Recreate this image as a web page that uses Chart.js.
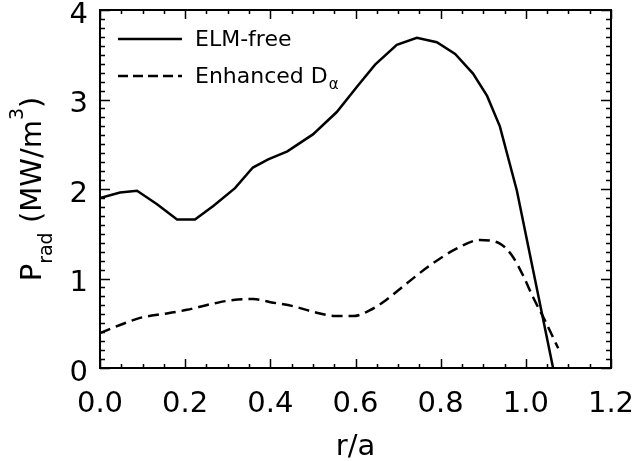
<!DOCTYPE html>
<html>
<head>
<meta charset="utf-8">
<script src="https://cdn.jsdelivr.net/npm/chart.js@4.4.1/dist/chart.umd.min.js"></script>
<style>
  html, body { margin: 0; background: #fff; }
  #box { width: 636px; height: 461px; }
</style>
</head>
<body>
<div id="box"><canvas id="pradChart"></canvas></div>
<script>
// ELM-free profile (r/a, MW/m^3)
const elmR = [0.000, 0.047, 0.087, 0.134, 0.181, 0.223, 0.266, 0.317, 0.359, 0.395, 0.440, 0.500, 0.556, 0.603, 0.646, 0.697, 0.744, 0.791, 0.834, 0.876, 0.909, 0.939, 0.979, 1.064];
const elmP = [1.90, 1.96, 1.98, 1.83, 1.66, 1.66, 1.81, 2.01, 2.24, 2.33, 2.42, 2.61, 2.86, 3.14, 3.39, 3.61, 3.69, 3.64, 3.51, 3.29, 3.04, 2.70, 1.98, 0.00];

// Enhanced D-alpha profile
const dalR = [0.000, 0.047, 0.094, 0.157, 0.204, 0.266, 0.313, 0.360, 0.407, 0.454, 0.507, 0.554, 0.594, 0.632, 0.672, 0.719, 0.773, 0.836, 0.892, 0.939, 0.967, 0.994, 1.017, 1.045, 1.076];
const dalP = [0.39, 0.48, 0.56, 0.61, 0.65, 0.72, 0.76, 0.77, 0.73, 0.69, 0.62, 0.58, 0.58, 0.64, 0.76, 0.94, 1.14, 1.33, 1.43, 1.39, 1.26, 1.03, 0.79, 0.53, 0.22];

const xTicks = [0.0, 0.2, 0.4, 0.6, 0.8, 1.0, 1.2];
const yTicks = [0, 1, 2, 3, 4];

const FONT = 'DejaVu Sans';

const toPts = (xs, ys) => xs.map((x, i) => ({ x: x, y: ys[i] }));

// inward ticks on all four sides + frame, y title and legend
const frameTicks = {
    id: 'frameTicks',
    afterDraw(chart) {
        const ctx = chart.ctx;
        const a = chart.chartArea;
        const sx = chart.scales.x, sy = chart.scales.y;
        ctx.save();
        ctx.strokeStyle = '#000';
        ctx.lineWidth = 1.5;
        ctx.beginPath();
        for (let i = 0; i <= 24; i++) {
            const v = i * 0.05;
            const px = Math.round(sx.getPixelForValue(v)) + 0.5;
            const len = (i % 4 === 0) ? 9 : 4;
            ctx.moveTo(px, a.bottom); ctx.lineTo(px, a.bottom - len);
            ctx.moveTo(px, a.top); ctx.lineTo(px, a.top + len);
        }
        for (let i = 0; i <= 40; i++) {
            const v = i * 0.1;
            const py = Math.round(sy.getPixelForValue(v)) + 0.5;
            const len = (i % 10 === 0) ? 10 : 5;
            ctx.moveTo(a.left, py); ctx.lineTo(a.left + len, py);
            ctx.moveTo(a.right, py); ctx.lineTo(a.right - len, py);
        }
        ctx.stroke();
        ctx.lineWidth = 2;
        ctx.strokeRect(a.left, a.top, a.right - a.left, a.bottom - a.top);

        // y axis title: P_rad (MW/m^3)
        ctx.fillStyle = '#000';
        ctx.textBaseline = 'alphabetic';
        const big = '29px "' + FONT + '"', small = '19px "' + FONT + '"';
        const parts = [
            ['P', big, 0], ['rad', small, 11], [' (MW/m', big, 0], ['3', small, -18], [')', big, 0]
        ];
        let total = 0;
        parts.forEach(p => { ctx.font = p[1]; total += ctx.measureText(p[0]).width; });
        const cy = (a.top + a.bottom) / 2;
        ctx.translate(41, cy);
        ctx.rotate(-Math.PI / 2);
        let cx = -total / 2;
        parts.forEach(p => {
            ctx.font = p[1];
            ctx.fillText(p[0], cx, p[2]);
            cx += ctx.measureText(p[0]).width;
        });
        ctx.restore();

        // legend
        ctx.save();
        ctx.strokeStyle = '#000';
        ctx.fillStyle = '#000';
        ctx.lineWidth = 2.5;
        ctx.textBaseline = 'middle';
        ctx.font = '22px "' + FONT + '"';
        ctx.beginPath(); ctx.moveTo(118, 39); ctx.lineTo(182, 39); ctx.stroke();
        ctx.fillText(chart.data.datasets[0].label, 195, 40);
        ctx.setLineDash([10, 5]);
        ctx.beginPath(); ctx.moveTo(118, 76); ctx.lineTo(182, 76); ctx.stroke();
        ctx.setLineDash([]);
        const lbl = 'Enhanced D';
        ctx.fillText(lbl, 195, 77);
        const w = ctx.measureText(lbl).width;
        ctx.font = '15px "' + FONT + '"';
        ctx.fillText('\u03b1', 195 + w + 1, 85);
        ctx.restore();
    }
};

new Chart(document.getElementById('pradChart'), {
    type: 'line',
    data: {
        datasets: [{
            label: 'ELM-free',
            data: toPts(elmR, elmP),
            borderColor: '#000',
            borderWidth: 2.5,
            pointRadius: 0,
            tension: 0,
            fill: false
        }, {
            label: 'Enhanced D\u03b1',
            data: toPts(dalR, dalP),
            borderColor: '#000',
            borderWidth: 2.5,
            borderDash: [11, 6],
            pointRadius: 0,
            cubicInterpolationMode: 'monotone',
            fill: false
        }]
    },
    options: {
        responsive: true,
        maintainAspectRatio: false,
        animation: false,
        layout: { padding: { top: 10, right: 25, left: 0, bottom: 0 } },
        plugins: {
            legend: { display: false },
            tooltip: { enabled: false }
        },
        scales: {
            x: {
                type: 'linear',
                min: 0, max: 1.2,
                afterBuildTicks: s => { s.ticks = xTicks.map(v => ({ value: v })); },
                afterFit: s => { s.height = 93; s.paddingLeft = 0; s.paddingRight = 0; },
                grid: { display: false, drawTicks: false },
                border: { display: false },
                ticks: {
                    color: '#000',
                    padding: 19,
                    maxRotation: 0,
                    font: { family: FONT, size: 29 },
                    callback: v => v.toFixed(1)
                },
                title: {
                    display: true,
                    text: 'r/a',
                    color: '#000',
                    font: { family: FONT, size: 29 },
                    padding: { top: 0, bottom: -4 }
                }
            },
            y: {
                type: 'linear',
                min: 0, max: 4,
                afterBuildTicks: s => { s.ticks = yTicks.map(v => ({ value: v })); },
                afterFit: s => { s.width = 100; s.paddingTop = 0; s.paddingBottom = 0; },
                grid: { display: false, drawTicks: false },
                border: { display: false },
                ticks: {
                    color: '#000',
                    padding: 12,
                    labelOffset: 5,
                    font: { family: FONT, size: 29 },
                    callback: v => String(v)
                }
            }
        }
    },
    plugins: [frameTicks]
});
</script>
</body>
</html>
